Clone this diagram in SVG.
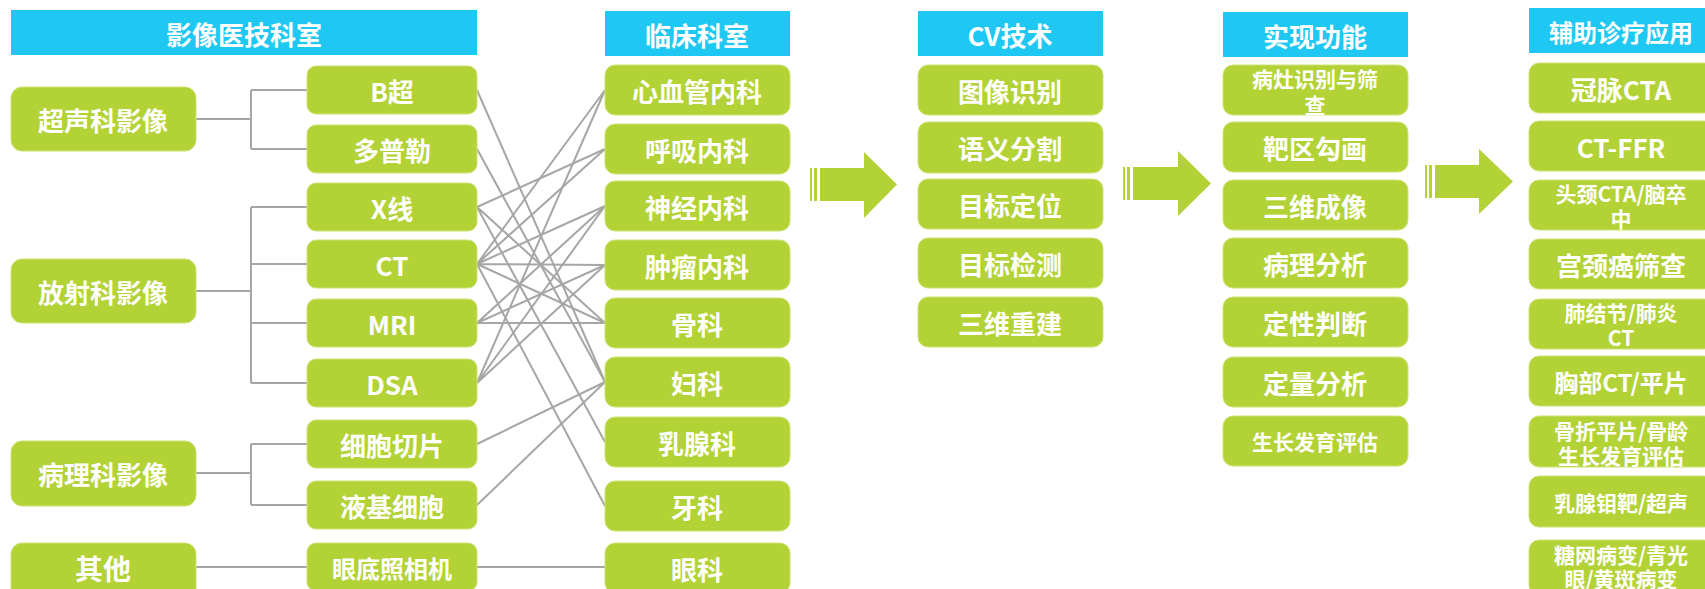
<svg xmlns="http://www.w3.org/2000/svg" width="1705" height="589" viewBox="0 0 1705 589">
<style>
.hd{fill:#1FC8F2}
.nd{fill:#B2D235;stroke:#CDE277;stroke-width:1}
.ar{fill:#B2D235}
.t{fill:#fff;font-family:"Noto Sans CJK SC","Noto Sans",sans-serif;font-weight:700;font-size:26px;text-anchor:middle;dominant-baseline:central}
.s{font-size:21px}
.m{font-size:24px}
.l{font-size:28px}
.cn{fill:none;stroke:#A6A6A6;stroke-width:2}
</style>
<rect width="1705" height="589" fill="#fff"/>
<g id="connectors" class="cn">
<path d="M196,119H251M251,90V149M251,90H307M251,149H307"/>
<path d="M196,291H251M251,207V383M251,207H307M251,264H307M251,323H307M251,383H307"/>
<path d="M196,473H251M251,444V505M251,444H307M251,505H307"/>
<path d="M196,567H307"/>
<path d="M477,567H605"/>
<path d="M477,90L605,382"/>
<path d="M477,149L605,382"/>
<path d="M477,207L605,149M477,207L605,323M477,207L605,442"/>
<path d="M477,264L605,90M477,264L605,149M477,264L605,206M477,264L605,265M477,264L605,323M477,264L605,506"/>
<path d="M477,323L605,206M477,323L605,265M477,323L605,323"/>
<path d="M477,383L605,90M477,383L605,206M477,383L605,265"/>
<path d="M477,444L605,382M477,505L605,382"/>
</g>
<g id="h1"><rect class="hd" x="11" y="10" width="466" height="45"/><text class="t" x="244" y="33">影像医技科室</text></g>
<g id="h2"><rect class="hd" x="605" y="11" width="185" height="45"/><text class="t" x="697" y="34">临床科室</text></g>
<g id="h3"><rect class="hd" x="918" y="11" width="185" height="45"/><text class="t" x="1010" y="34">CV技术</text></g>
<g id="h4"><rect class="hd" x="1223" y="12" width="185" height="45"/><text class="t" x="1315" y="35">实现功能</text></g>
<g id="h5"><rect class="hd" x="1529" y="8" width="185" height="45"/><text class="t m" x="1621" y="31">辅助诊疗应用</text></g>

<g id="n-cs"><rect class="nd" x="11" y="87" width="185" height="64" rx="11"/><text class="t" x="103" y="119">超声科影像</text></g>
<g id="n-fs"><rect class="nd" x="11" y="259" width="185" height="64" rx="11"/><text class="t" x="103" y="291">放射科影像</text></g>
<g id="n-bl"><rect class="nd" x="11" y="441" width="185" height="65" rx="11"/><text class="t" x="103" y="473">病理科影像</text></g>
<g id="n-qt"><rect class="nd" x="11" y="543" width="185" height="65" rx="11"/><text class="t l" x="103" y="568">其他</text></g>

<g id="n-bc"><rect class="nd" x="307" y="66" width="170" height="48" rx="9"/><text class="t" x="392" y="90">B超</text></g>
<g id="n-dpl"><rect class="nd" x="307" y="125" width="170" height="48" rx="9"/><text class="t" x="392" y="149">多普勒</text></g>
<g id="n-xx"><rect class="nd" x="307" y="183" width="170" height="48" rx="9"/><text class="t" x="392" y="207">X线</text></g>
<g id="n-ct"><rect class="nd" x="307" y="240" width="170" height="48" rx="9"/><text class="t" x="392" y="264">CT</text></g>
<g id="n-mri"><rect class="nd" x="307" y="299" width="170" height="48" rx="9"/><text class="t" x="392" y="323">MRI</text></g>
<g id="n-dsa"><rect class="nd" x="307" y="359" width="170" height="48" rx="9"/><text class="t" x="392" y="383">DSA</text></g>
<g id="n-xbqp"><rect class="nd" x="307" y="420" width="170" height="48" rx="9"/><text class="t" x="392" y="444">细胞切片</text></g>
<g id="n-yjxb"><rect class="nd" x="307" y="481" width="170" height="48" rx="9"/><text class="t" x="392" y="505">液基细胞</text></g>
<g id="n-yd"><rect class="nd" x="307" y="543" width="170" height="48" rx="9"/><text class="t m" x="392" y="567">眼底照相机</text></g>

<g id="d-xxg"><rect class="nd" x="605" y="65" width="185" height="50" rx="10"/><text class="t" x="697" y="90">心血管内科</text></g>
<g id="d-hx"><rect class="nd" x="605" y="124" width="185" height="50" rx="10"/><text class="t" x="697" y="149">呼吸内科</text></g>
<g id="d-sj"><rect class="nd" x="605" y="181" width="185" height="50" rx="10"/><text class="t" x="697" y="206">神经内科</text></g>
<g id="d-zl"><rect class="nd" x="605" y="240" width="185" height="50" rx="10"/><text class="t" x="697" y="265">肿瘤内科</text></g>
<g id="d-gk"><rect class="nd" x="605" y="298" width="185" height="50" rx="10"/><text class="t" x="697" y="323">骨科</text></g>
<g id="d-fk"><rect class="nd" x="605" y="357" width="185" height="50" rx="10"/><text class="t" x="697" y="382">妇科</text></g>
<g id="d-rx"><rect class="nd" x="605" y="417" width="185" height="50" rx="10"/><text class="t" x="697" y="442">乳腺科</text></g>
<g id="d-yk"><rect class="nd" x="605" y="481" width="185" height="50" rx="10"/><text class="t" x="697" y="506">牙科</text></g>
<g id="d-yank"><rect class="nd" x="605" y="543" width="185" height="50" rx="10"/><text class="t" x="697" y="568">眼科</text></g>

<g id="arrow1"><rect class="ar" x="810" y="168" width="2" height="33"/><rect class="ar" x="814" y="168" width="3" height="33"/><path class="ar" d="M820,168H864V152L897,184.5L864,218V201H820Z"/></g>

<g id="c-sb"><rect class="nd" x="918" y="65" width="185" height="50" rx="10"/><text class="t" x="1010" y="90">图像识别</text></g>
<g id="c-fg"><rect class="nd" x="918" y="122" width="185" height="51" rx="10"/><text class="t" x="1010" y="147">语义分割</text></g>
<g id="c-dw"><rect class="nd" x="918" y="179" width="185" height="50" rx="10"/><text class="t" x="1010" y="204">目标定位</text></g>
<g id="c-jc"><rect class="nd" x="918" y="238" width="185" height="50" rx="10"/><text class="t" x="1010" y="263">目标检测</text></g>
<g id="c-cj"><rect class="nd" x="918" y="297" width="185" height="50" rx="10"/><text class="t" x="1010" y="322">三维重建</text></g>

<g id="arrow2"><rect class="ar" x="1123" y="167" width="2" height="33"/><rect class="ar" x="1127" y="167" width="3" height="33"/><path class="ar" d="M1133,167H1178V151L1211,183.5L1178,216V200H1133Z"/></g>

<g id="f-bz"><rect class="nd" x="1223" y="65" width="185" height="50" rx="10"/><text class="t s"><tspan x="1315" y="77.5">病灶识别与筛</tspan><tspan x="1315" y="103.5">查</tspan></text></g>
<g id="f-bq"><rect class="nd" x="1223" y="122" width="185" height="50" rx="10"/><text class="t" x="1315" y="147">靶区勾画</text></g>
<g id="f-sw"><rect class="nd" x="1223" y="180" width="185" height="50" rx="10"/><text class="t" x="1315" y="205">三维成像</text></g>
<g id="f-bl"><rect class="nd" x="1223" y="238" width="185" height="50" rx="10"/><text class="t" x="1315" y="263">病理分析</text></g>
<g id="f-dx"><rect class="nd" x="1223" y="297" width="185" height="50" rx="10"/><text class="t" x="1315" y="322">定性判断</text></g>
<g id="f-dl"><rect class="nd" x="1223" y="357" width="185" height="50" rx="10"/><text class="t" x="1315" y="382">定量分析</text></g>
<g id="f-sz"><rect class="nd" x="1223" y="416" width="185" height="50" rx="10"/><text class="t s" x="1315" y="441">生长发育评估</text></g>

<g id="arrow3"><rect class="ar" x="1425" y="165" width="2" height="33"/><rect class="ar" x="1429" y="165" width="3" height="33"/><path class="ar" d="M1435,165H1479V149L1513,181.5L1479,214V198H1435Z"/></g>

<g id="a-gm"><rect class="nd" x="1529" y="63" width="185" height="50" rx="10"/><text class="t" x="1621" y="88">冠脉CTA</text></g>
<g id="a-ffr"><rect class="nd" x="1529" y="121" width="185" height="50" rx="10"/><text class="t" x="1621" y="146">CT-FFR</text></g>
<g id="a-tj"><rect class="nd" x="1529" y="180" width="185" height="50" rx="10"/><text class="t s"><tspan x="1621" y="193">头颈CTA/脑卒</tspan><tspan x="1621" y="218">中</tspan></text></g>
<g id="a-gj"><rect class="nd" x="1529" y="239" width="185" height="50" rx="10"/><text class="t" x="1621" y="264">宫颈癌筛查</text></g>
<g id="a-fj"><rect class="nd" x="1529" y="299" width="185" height="50" rx="10"/><text class="t s"><tspan x="1621" y="311.5">肺结节/肺炎</tspan><tspan x="1621" y="336.5">CT</tspan></text></g>
<g id="a-xb"><rect class="nd" x="1529" y="356" width="185" height="50" rx="10"/><text class="t m" x="1621" y="381">胸部CT/平片</text></g>
<g id="a-gz"><rect class="nd" x="1529" y="416" width="185" height="51" rx="10"/><text class="t s"><tspan x="1621" y="430">骨折平片/骨龄</tspan><tspan x="1621" y="455">生长发育评估</tspan></text></g>
<g id="a-rx"><rect class="nd" x="1529" y="476" width="185" height="51" rx="10"/><text class="t s" x="1621" y="501.5">乳腺钼靶/超声</text></g>
<g id="a-tw"><rect class="nd" x="1529" y="540" width="185" height="55" rx="10"/><text class="t s"><tspan x="1621" y="554">糖网病变/青光</tspan><tspan x="1621" y="578">眼/黄斑病变</tspan></text></g>
</svg>
